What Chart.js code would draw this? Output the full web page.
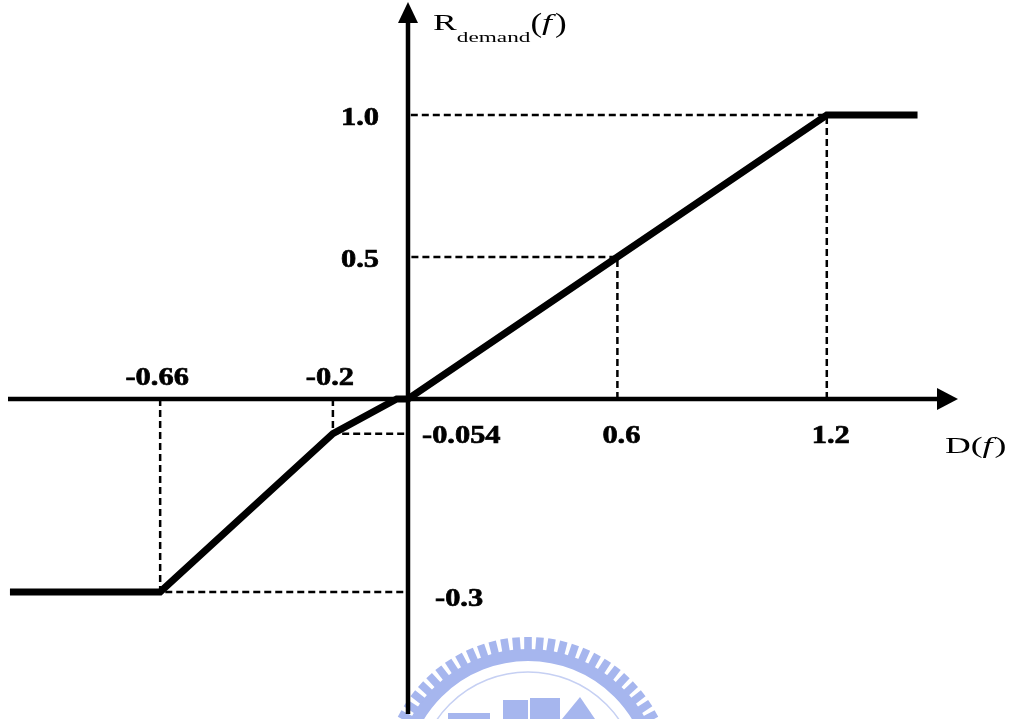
<!DOCTYPE html>
<html lang="en">
<head>
<meta charset="UTF-8">
<title>R_demand(f) vs D(f)</title>
<script src="https://cdn.jsdelivr.net/npm/chart.js"></script>
<style>
    html, body { margin: 0; padding: 0; background: #fff; }
    #wrap { width: 1009px; height: 719px; }
</style>
</head>
<body>
<div id="wrap"><canvas id="chart"></canvas></div>
<script>
// demand response curve, piecewise linear
const curveX = [-1.06, -0.66, -0.2, -0.03, 0, 0.6, 1.2, 1.46];
const curveY = [-0.3, -0.3, -0.054, 0, 0, 0.5, 1.0, 1.0];

// break points that get dashed guide lines to both axes
const markX = [-0.66, -0.2, 0.6, 1.2];
const markY = [-0.3, -0.054, 0.5, 1.0];

const xLabels = ['-0.66', '-0.2', '0.6', '1.2'];
const yLabels = ['-0.3', '-0.054', '0.5', '1.0'];

// linear scale whose negative side gets its own unit length
class SplitScale extends Chart.LinearScale {
    warp(v) { return v < 0 ? v * this.options.negStretch : v; }
    unwarp(u) { return u < 0 ? u / this.options.negStretch : u; }
    getPixelForValue(value) {
        const a = this.warp(this.min), b = this.warp(this.max);
        return this.getPixelForDecimal((this.warp(value) - a) / (b - a));
    }
    getValueForPixel(pixel) {
        const a = this.warp(this.min), b = this.warp(this.max);
        return this.unwarp(a + this.getDecimalForPixel(pixel) * (b - a));
    }
}
SplitScale.id = 'split';
SplitScale.defaults = Chart.LinearScale.defaults;
Chart.register(SplitScale);

const FAMILY = '"Liberation Serif", "Times New Roman", serif';
const BOLD = 'bold 26px ' + FAMILY;
const SERIF = '23px ' + FAMILY;

function drawText(ctx, text, x, y, sx, align, heavy) {
    ctx.save();
    ctx.translate(x, y);
    ctx.scale(sx, 1);
    ctx.textAlign = align;
    ctx.fillText(text, 0, 0);
    if (heavy) {
        ctx.lineWidth = 0.7;
        ctx.strokeText(text, 0, 0);
    }
    ctx.restore();
}

const watermark = {
    id: 'watermark',
    beforeDraw(chart) {
        const ctx = chart.ctx;
        const cx = 528, cy = 783;
        ctx.save();
        ctx.filter = 'blur(0.6px)';
        ctx.strokeStyle = '#a6b6ee';
        ctx.fillStyle = '#a6b6ee';
        ctx.lineWidth = 12;
        ctx.beginPath();
        ctx.arc(cx, cy, 128, Math.PI, 2 * Math.PI);
        ctx.stroke();
        const n = 76;
        for (let i = 0; i <= n / 2; i++) {
            const a = Math.PI + i * 2 * Math.PI / n;
            ctx.save();
            ctx.translate(cx, cy);
            ctx.rotate(a);
            ctx.fillRect(133, -3.8, 13, 7.6);
            ctx.restore();
        }
        ctx.lineWidth = 1.5;
        ctx.strokeStyle = '#c6d0f3';
        ctx.beginPath();
        ctx.arc(cx, cy, 111, Math.PI, 2 * Math.PI);
        ctx.stroke();
        ctx.fillRect(448, 713, 42, 8);
        ctx.fillRect(503, 700, 25, 20);
        ctx.fillRect(530, 698, 30, 22);
        ctx.beginPath();
        ctx.moveTo(562, 719); ctx.lineTo(580, 697); ctx.lineTo(595, 719);
        ctx.fill();
        ctx.restore();
    }
};

const axes = {
    id: 'axes',
    beforeDatasetsDraw(chart) {
        const { ctx, chartArea, scales: { x, y } } = chart;
        const ox = x.getPixelForValue(0), oy = y.getPixelForValue(0);
        ctx.save();
        ctx.strokeStyle = '#000';
        ctx.fillStyle = '#000';
        ctx.lineWidth = 4.5;
        // D(f) axis
        const tipX = chartArea.right - 51;
        ctx.beginPath();
        ctx.moveTo(chartArea.left + 8, oy);
        ctx.lineTo(tipX - 18, oy);
        ctx.stroke();
        ctx.beginPath();
        ctx.moveTo(tipX, oy);
        ctx.lineTo(tipX - 21, oy - 11);
        ctx.lineTo(tipX - 21, oy + 11);
        ctx.closePath();
        ctx.fill();
        // R_demand axis
        const tipY = chartArea.top + 2;
        ctx.beginPath();
        ctx.moveTo(ox, tipY + 18);
        ctx.lineTo(ox, chartArea.bottom - 5);
        ctx.stroke();
        ctx.beginPath();
        ctx.moveTo(ox, tipY);
        ctx.lineTo(ox - 10, tipY + 21);
        ctx.lineTo(ox + 10, tipY + 21);
        ctx.closePath();
        ctx.fill();
        ctx.restore();
    },
    afterDraw(chart) {
        const { ctx, chartArea, scales: { x, y } } = chart;
        const ox = x.getPixelForValue(0), oy = y.getPixelForValue(0);
        ctx.save();
        ctx.fillStyle = '#000';
        ctx.strokeStyle = '#000';
        ctx.textBaseline = 'alphabetic';
        ctx.font = BOLD;
        const sx = 1.17;

        // values along D(f)
        xLabels.forEach((t, i) => {
            const px = x.getPixelForValue(markX[i]);
            if (markX[i] < 0) drawText(ctx, t, px - 3, oy - 14, sx, 'center', true);
            else drawText(ctx, t, px + 4, oy + 44, sx, 'center', true);
        });

        // values along R_demand
        yLabels.forEach((t, i) => {
            const py = y.getPixelForValue(markY[i]);
            if (markY[i] > 0) drawText(ctx, t, ox - 29, py + 10, sx, 'right', true);
            else if (markY[i] > -0.1) drawText(ctx, t, ox + 14, oy + 44, sx, 'left', true);
            else drawText(ctx, t, ox + 27, py + 14, sx, 'left', true);
        });

        // axis titles
        const tx = 1.55;
        let cx = ox + 25;
        const by = chartArea.top + 30;
        ctx.font = SERIF;
        drawText(ctx, 'R', cx, by, tx, 'left');
        cx += ctx.measureText('R').width * tx;
        ctx.font = '15px ' + FAMILY;
        drawText(ctx, 'demand', cx, by + 12, tx, 'left');
        cx += ctx.measureText('demand').width * tx;
        ctx.font = '27px ' + FAMILY;
        drawText(ctx, '(', cx, by + 2, 1.3, 'left');
        cx += ctx.measureText('(').width * 1.3;
        ctx.font = 'italic ' + SERIF;
        drawText(ctx, 'f', cx, by, tx, 'left');
        cx += ctx.measureText('f').width * tx + 3;
        ctx.font = '27px ' + FAMILY;
        drawText(ctx, ')', cx, by + 2, 1.3, 'left');

        ctx.font = SERIF;
        let dx = chartArea.right - 64;
        const dy = oy + 54;
        drawText(ctx, 'D(', dx, dy, tx, 'left');
        dx += ctx.measureText('D(').width * tx;
        ctx.font = 'italic ' + SERIF;
        drawText(ctx, 'f', dx, dy, tx, 'left');
        dx += ctx.measureText('f').width * tx + 2;
        ctx.font = SERIF;
        drawText(ctx, ')', dx, dy, tx, 'left');
        ctx.restore();
    }
};

const guides = markX.map((mx, i) => ({
    data: [{ x: mx, y: 0 }, { x: mx, y: markY[i] }, { x: 0, y: markY[i] }],
    showLine: true,
    borderColor: '#000',
    borderWidth: 2.5,
    borderDash: [7, 4],
    pointRadius: 0,
    tension: 0
}));

new Chart(document.getElementById('chart'), {
    type: 'scatter',
    data: {
        datasets: [{
            data: curveX.map((v, i) => ({ x: v, y: curveY[i] })),
            showLine: true,
            borderColor: '#000',
            borderWidth: 7,
            borderJoinStyle: 'miter',
            borderCapStyle: 'butt',
            pointRadius: 0,
            tension: 0
        }, ...guides]
    },
    options: {
        responsive: true,
        maintainAspectRatio: false,
        animation: false,
        layout: { padding: 0 },
        plugins: { legend: { display: false }, tooltip: { enabled: false } },
        scales: {
            x: { type: 'split', display: false, bounds: 'data', min: -1.0865, max: 1.7221, negStretch: 1.076 },
            y: { type: 'split', display: false, bounds: 'data', min: -0.4977, max: 1.4049, negStretch: 2.264 }
        }
    },
    plugins: [watermark, axes]
});
</script>
</body>
</html>
